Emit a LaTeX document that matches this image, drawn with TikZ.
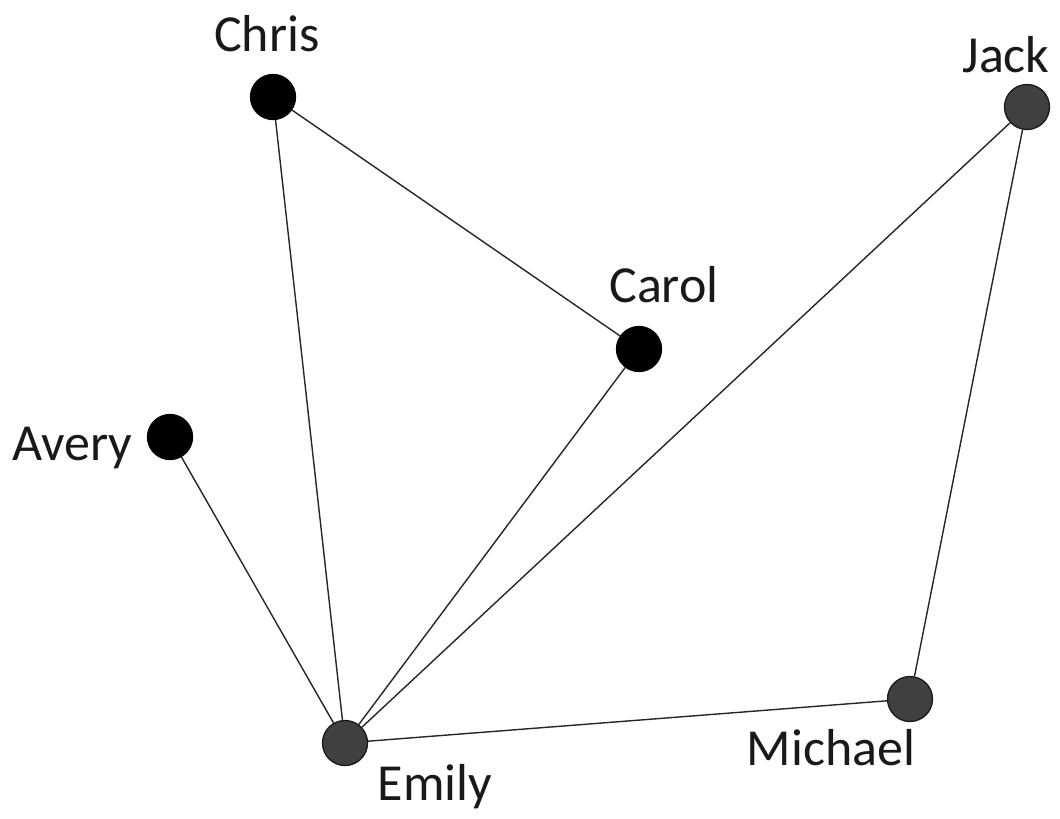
\documentclass[tikz,border=0pt]{standalone}
\usepackage{fontspec}
\setmainfont{Carlito}
\begin{document}
\begin{tikzpicture}[x=1pt,y=-1pt,
  person/.style={circle,minimum size=45pt,inner sep=0pt,line width=1.3pt},
  coreperson/.style={person,fill=black,draw=black},
  greyperson/.style={person,fill=black!75,draw=black!90},
  tie/.style={line width=1.4pt,draw=black!85},
  nametag/.style={anchor=base,inner sep=0pt,font=\fontsize{52}{60}\selectfont,text=black!90}]
\useasboundingbox (0,0) rectangle (1060,819);
% people
\node[coreperson] (chris)   at (273,97)  {};
\node[coreperson] (carol)   at (639,349) {};
\node[coreperson] (avery)   at (170,437) {};
\node[greyperson] (emily)   at (345,743) {};
\node[greyperson] (michael) at (910,699) {};
\node[greyperson] (jack)    at (1027,107) {};
% ties, stopping at the circle borders
\draw[tie] (chris) -- (carol);
\draw[tie] (chris) -- (emily);
\draw[tie] (carol) -- (emily);
\draw[tie] (avery) -- (emily);
\draw[tie] (jack) -- (emily);
\draw[tie] (jack) -- (michael);
\draw[tie] (michael) -- (emily);
% names
\node[nametag] (lchris)   at (267,51)  {Chris};
\node[nametag] (ljack)    at (1006,72) {Jack};
\node[nametag] (lcarol)   at (664,302) {Carol};
\node[nametag] (lavery)   at (72,460)  {Avery};
\node[nametag] (lmichael) at (831,765) {Michael};
\node[nametag] (lemily)   at (435,800) {Emily};
\end{tikzpicture}
\end{document}
